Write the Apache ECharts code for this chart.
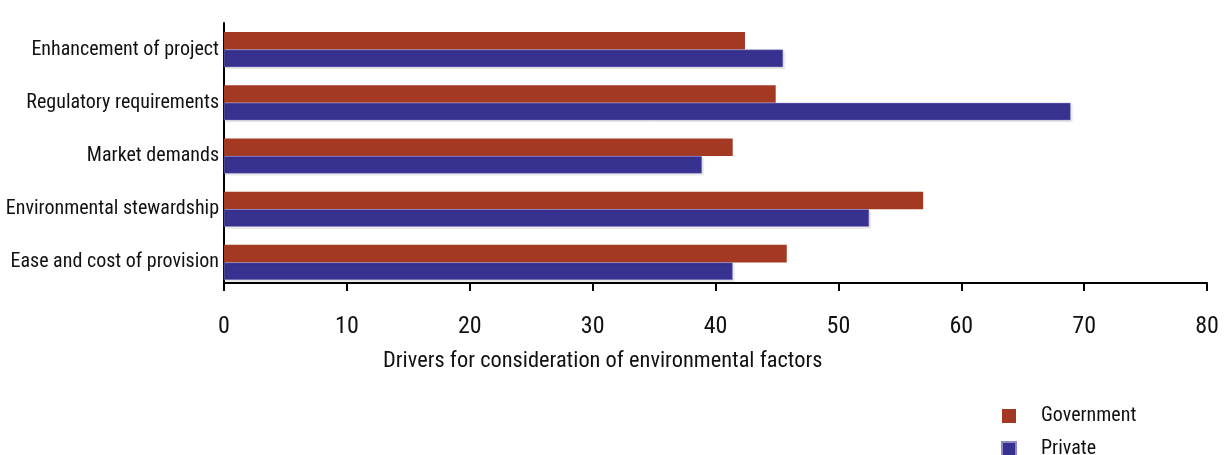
<!DOCTYPE html>
<html>
<head>
<meta charset="utf-8">
<script src="https://cdn.jsdelivr.net/npm/echarts@6/dist/echarts.min.js"></script>
<style>
  html, body { margin: 0; padding: 0; background: #fff; }
  #chart { width: 1227px; height: 455px; }
</style>
</head>
<body>
<div id="chart"></div>
<script>
const categories = [
  'Enhancement of project',
  'Regulatory requirements',
  'Market demands',
  'Environmental stewardship',
  'Ease and cost of provision'
]
const government = [42.4, 44.9, 41.4, 56.9, 45.8]
const privateSector = [45.5, 68.9, 38.9, 52.5, 41.4]
const xTicks = [0, 10, 20, 30, 40, 50, 60, 70, 80]

const font = '"Liberation Sans Narrow", "Roboto Condensed", "Arial Narrow", sans-serif'

const chart = echarts.init(document.getElementById('chart'))

const option = {
  animation: false,
  title: {
    text: 'Drivers for consideration of environmental factors',
    left: 383,
    top: 350,
    padding: 0,
    textStyle: { fontFamily: font, fontSize: 22.4, fontWeight: 'normal', color: '#111' }
  },
  legend: {
    orient: 'vertical',
    left: 1001,
    top: 406,
    height: 80,
    padding: 0,
    itemWidth: 14,
    itemHeight: 14,
    itemGap: 13,
    icon: 'rect',
    textStyle: { fontFamily: font, fontSize: 20, lineHeight: 16, color: '#111', padding: [0, 0, 0, 20] },
    data: ['Government', 'Private']
  },
  grid: {
    left: 224,
    right: 20,
    top: 23,
    bottom: 166
  },
  xAxis: {
    type: 'value',
    min: xTicks[0],
    max: xTicks[xTicks.length - 1],
    interval: 10,
    offset: -6,
    axisLine: { show: true, lineStyle: { color: '#000', width: 2 } },
    axisTick: { show: true, length: 8, lineStyle: { color: '#000', width: 2 } },
    axisLabel: { fontFamily: font, fontSize: 24, color: '#111', margin: 32 },
    splitLine: { show: false }
  },
  yAxis: {
    type: 'category',
    inverse: true,
    data: categories,
    axisLine: { show: true, lineStyle: { color: '#000', width: 2 } },
    axisTick: { show: false },
    axisLabel: { fontFamily: font, fontSize: 20, color: '#111', margin: 5 }
  },
  series: [
    {
      name: 'Government',
      type: 'bar',
      data: government,
      barGap: '0%',
      barCategoryGap: '34%',
      itemStyle: { color: '#A33823' }
    },
    {
      name: 'Private',
      type: 'bar',
      data: privateSector,
      itemStyle: {
        color: '#37318F',
        borderColor: '#8E88C8',
        borderWidth: 0.5,
        shadowColor: 'rgba(0,0,0,0.08)',
        shadowOffsetX: 2,
        shadowOffsetY: 2
      }
    }
  ]
}

chart.setOption(option)
window.addEventListener('resize', () => chart.resize())
</script>
</body>
</html>
